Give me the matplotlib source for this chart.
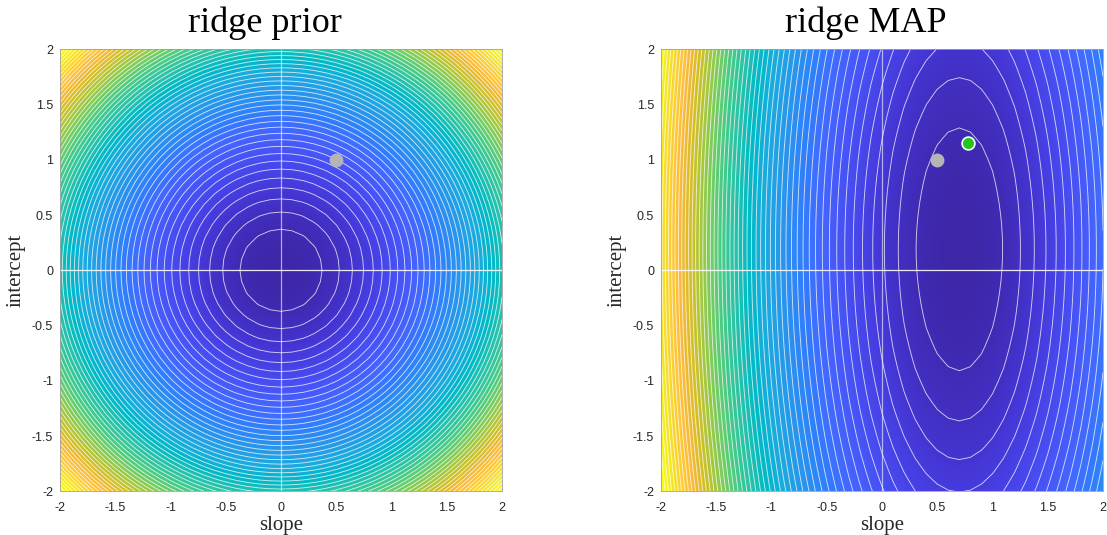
import numpy as np
import matplotlib
matplotlib.use("Agg")
import matplotlib.pyplot as plt
from matplotlib.colors import LinearSegmentedColormap

# ---------------- data ----------------
slope_lim = [-2, 2]
intercept_lim = [-2, 2]
tick_values = [-2, -1.5, -1, -0.5, 0, 0.5, 1, 1.5, 2]
tick_labels = ['-2', '-1.5', '-1', '-0.5', '0', '0.5', '1', '1.5', '2']
titles = ['ridge prior', 'ridge MAP']

# quadratic surfaces f = ((s-cs)/ss)^2 + ((b-cb)/sb)^2
prior_center = [0.0, 0.0]
prior_scale = [1.0, 1.0]
prior_level_step = 0.14

post_center = [0.70, 0.19]
post_scale = [1.0, 2.8]
post_level_step = 0.154

true_point = [0.5, 1.0]      # grey dot
map_point = [0.78, 1.15]     # green dot

# ---------------- parula colormap (MATLAB) ----------------
parula_rgb = [
    (0.2422, 0.1504, 0.6603), (0.2578, 0.1818, 0.7511), (0.2706, 0.2147, 0.8364),
    (0.2783, 0.2559, 0.8991), (0.2813, 0.3006, 0.9414), (0.2795, 0.3447, 0.9717),
    (0.2699, 0.3892, 0.9906), (0.2440, 0.4358, 0.9988), (0.1963, 0.4847, 0.9892),
    (0.1786, 0.5289, 0.9682), (0.1687, 0.5703, 0.9359), (0.1460, 0.6091, 0.9079),
    (0.1248, 0.6459, 0.8883), (0.0952, 0.6798, 0.8598), (0.0297, 0.7082, 0.8163),
    (0.0067, 0.7312, 0.7660), (0.0964, 0.7500, 0.7120), (0.1717, 0.7670, 0.6554),
    (0.2161, 0.7843, 0.5923), (0.2906, 0.7973, 0.5188), (0.3909, 0.8029, 0.4354),
    (0.5044, 0.7993, 0.3480), (0.6174, 0.7876, 0.2612), (0.7242, 0.7698, 0.1910),
    (0.8203, 0.7498, 0.1535), (0.9035, 0.7330, 0.1774), (0.9728, 0.7298, 0.2394),
    (0.9970, 0.7659, 0.2199), (0.9892, 0.8136, 0.1885), (0.9676, 0.8639, 0.1643),
    (0.9597, 0.9135, 0.1423), (0.9691, 0.9606, 0.1064), (0.9769, 0.9839, 0.0805),
]
parula = LinearSegmentedColormap.from_list('parula', parula_rgb, N=256)

TICK_FONT = ['Liberation Sans', 'DejaVu Sans']
SERIF = ['Liberation Serif', 'DejaVu Serif']


def surface(S, B, center, scale):
    return ((S - center[0]) / scale[0]) ** 2 + ((B - center[1]) / scale[1]) ** 2


fig = plt.figure(figsize=(11.07, 5.35), dpi=100)
W, H = 1107, 535
ax_left_px = [60, 661]
ax_top_px, ax_size_px = 49.3, 442
title_x_px = [265, 866]
ylabel_x_px = [16, 617]

panels = [
    (prior_center, prior_scale, prior_level_step, False),
    (post_center, post_scale, post_level_step, True),
]

s_fine = np.linspace(slope_lim[0], slope_lim[1], 401)
b_fine = np.linspace(intercept_lim[0], intercept_lim[1], 401)
SF, BF = np.meshgrid(s_fine, b_fine)
s_coarse = np.linspace(slope_lim[0], slope_lim[1], 41)
b_coarse = np.linspace(intercept_lim[0], intercept_lim[1], 41)
SC, BC = np.meshgrid(s_coarse, b_coarse)

for i, (center, scale, step, show_map) in enumerate(panels):
    ax = fig.add_axes([ax_left_px[i] / W,
                       (H - ax_top_px - ax_size_px) / H,
                       ax_size_px / W, ax_size_px / H])
    F = surface(SF, BF, center, scale)
    ax.imshow(F, extent=[slope_lim[0], slope_lim[1], intercept_lim[0], intercept_lim[1]],
              origin='lower', cmap=parula, aspect='auto', interpolation='bilinear',
              vmin=F.min(), vmax=F.max(), zorder=0)
    FC = surface(SC, BC, center, scale)
    levels = np.arange(step, F.max(), step)
    ax.contour(SC, BC, FC, levels=levels, colors='white', linewidths=0.65,
               alpha=0.75, zorder=1)
    ax.axhline(0, color='white', lw=0.9, alpha=0.9, zorder=2)
    ax.axvline(0, color='white', lw=0.9, alpha=0.6, zorder=2)

    ax.plot(true_point[0], true_point[1], 'o', ms=10, color='#b5b5b5',
            mec='none', zorder=3)
    if show_map:
        ax.plot(map_point[0], map_point[1], 'o', ms=9.2, color='#23c423',
                mec='white', mew=1.2, zorder=4)

    ax.set_xlim(slope_lim)
    ax.set_ylim(intercept_lim)
    ax.set_xticks(tick_values)
    ax.set_xticklabels(tick_labels, family=TICK_FONT, fontsize=9, color='#262626')
    ax.set_yticks(tick_values)
    ax.set_yticklabels(tick_labels, family=TICK_FONT, fontsize=9, color='#262626')
    ax.tick_params(axis='x', length=0, pad=8)
    ax.tick_params(axis='y', length=0, pad=5)
    for sp in ax.spines.values():
        sp.set_color('#a0a0a0')
        sp.set_linewidth(0.6)

    ax.text(0.5, -(530 - (ax_top_px + ax_size_px)) / ax_size_px, 'slope',
            transform=ax.transAxes, ha='center', va='baseline',
            family=SERIF, fontsize=15, color='#262626')
    ax.text(-(ax_left_px[i] - ylabel_x_px[i]) / ax_size_px, 0.5, 'intercept',
            transform=ax.transAxes, ha='center', va='center', rotation=90,
            family=SERIF, fontsize=15, color='#262626')

    fig.text(title_x_px[i] / W, 1 - 31.7 / H, titles[i], ha='center', va='baseline',
             family=SERIF, fontsize=26, color='black')

fig.savefig('out.png', dpi=100)
